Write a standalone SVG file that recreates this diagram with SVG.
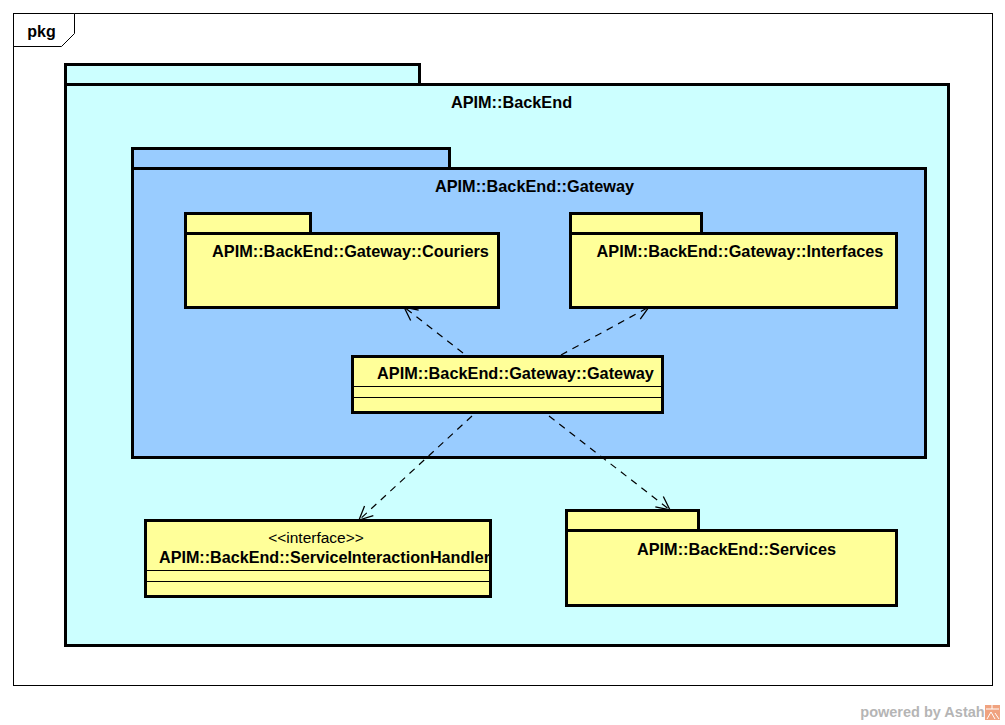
<svg xmlns="http://www.w3.org/2000/svg" width="1005" height="725" viewBox="0 0 1005 725">
<defs>
<marker id="open" markerUnits="userSpaceOnUse" markerWidth="30" markerHeight="30" refX="20" refY="10" orient="auto" viewBox="0 0 30 30"><path d="M6.500 3.500 L20 10 L6.500 16.500" fill="none" stroke="#000" stroke-width="1.300"/></marker>
</defs>
<style>
text{font-family:"Liberation Sans",Arial,sans-serif;font-size:16.300px;font-weight:bold;fill:#000;text-anchor:middle}
.o{stroke:#000;stroke-width:3;}
.cyan{fill:#ccffff}.blue{fill:#99ccff}.yel{fill:#ffff99}
.sep{stroke:#000;stroke-width:1;fill:none}
.dep{fill:none;stroke:#000;stroke-width:1.200;stroke-dasharray:7 6;marker-end:url(#open)}
</style>
<rect width="1005" height="725" fill="#fff"/>
<g id="frame">
<rect x="13.500" y="13.500" width="979" height="672" fill="#fff" stroke="#000" stroke-width="1"/>
<path d="M13.500 46.500 H61.500 L74.500 33.500 V13.500" fill="#fff" stroke="#000" stroke-width="1"/>
<text x="41.500" y="37" style="font-size:16px">pkg</text>
</g>
<g id="pkg-backend">
<rect class="o cyan" x="65.500" y="64.500" width="354" height="20"/>
<rect class="o cyan" x="65.500" y="84.500" width="883" height="561"/>
<text x="511.500" y="108">APIM::BackEnd</text>
</g>
<g id="pkg-gateway">
<rect class="o blue" x="132.500" y="148.500" width="317" height="20"/>
<rect class="o blue" x="132.500" y="168.500" width="793" height="289"/>
<text x="534.500" y="191.500">APIM::BackEnd::Gateway</text>
</g>
<g id="pkg-couriers">
<rect class="o yel" x="185.500" y="213.500" width="125" height="20"/>
<rect class="o yel" x="185.500" y="233.500" width="313" height="74"/>
<text x="350.500" y="256.500">APIM::BackEnd::Gateway::Couriers</text>
</g>
<g id="pkg-interfaces">
<rect class="o yel" x="570.500" y="213.500" width="131" height="20"/>
<rect class="o yel" x="570.500" y="233.500" width="326" height="74"/>
<text x="740" y="256.500">APIM::BackEnd::Gateway::Interfaces</text>
</g>
<g id="class-gateway">
<rect class="o yel" x="352.500" y="356.500" width="310" height="56"/>
<path class="sep" d="M353 386.500 H662 M353 397.500 H662"/>
<text x="515.500" y="379">APIM::BackEnd::Gateway::Gateway</text>
</g>
<g id="iface-handler">
<rect class="o yel" x="145.500" y="520.500" width="345" height="76"/>
<path class="sep" d="M146 570.500 H490 M146 581.500 H490"/>
<text x="316" y="543" style="font-weight:normal;font-size:15.500px">&lt;&lt;interface&gt;&gt;</text>
<text x="324.500" y="562.500" style="font-size:16.150px">APIM::BackEnd::ServiceInteractionHandler</text>
</g>
<g id="pkg-services">
<rect class="o yel" x="566.500" y="510.500" width="132" height="20"/>
<rect class="o yel" x="566.500" y="530.500" width="330" height="75"/>
<text x="736.500" y="554.500">APIM::BackEnd::Services</text>
</g>
<g id="connectors">
<path class="dep" d="M463 353 L404 307"/>
<path class="dep" d="M561 355 L649 307"/>
<path class="dep" d="M472 416 L359 520"/>
<path class="dep" d="M549 416 L670 510"/>
</g>
<g id="watermark">
<text x="922.500" y="717" style="font-size:14.500px;fill:#b5b5b5">powered by Astah</text>
<rect x="985" y="705" width="15" height="15" fill="#f0a380"/>
<path d="M986 709 H999 M992 705 V709 M987 719 L991 712 L995 719 M995 713 L999 719" fill="none" stroke="#fff" stroke-width="1"/>
</g>
</svg>
